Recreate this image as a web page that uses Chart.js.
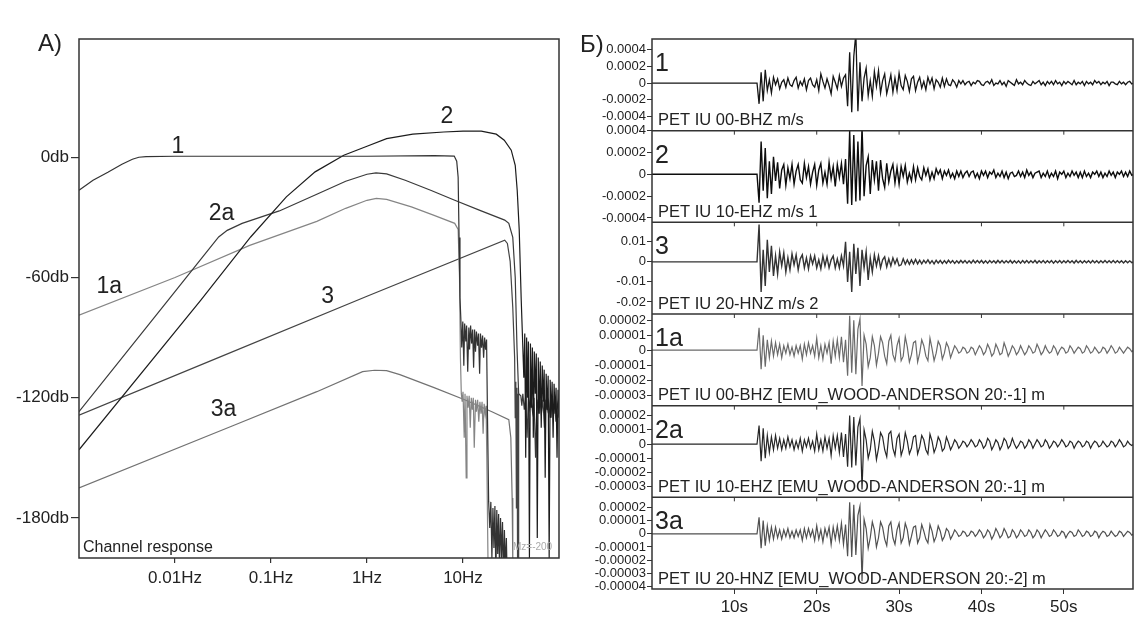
<!DOCTYPE html>
<html>
<head>
<meta charset="utf-8">
<title>Channel response and seismograms</title>
<script src="https://cdn.jsdelivr.net/npm/chart.js@4.4.1/dist/chart.umd.min.js"></script>
<style>
  html, body { margin: 0; padding: 0; background: #fff; }
  #page { position: relative; width: 1136px; height: 618px; overflow: hidden; }
  #responseChart { position: absolute; left: 0; top: 0; }
  #traceChart { position: absolute; left: 570px; top: 0; }
</style>
</head>
<body>
<div id="page">
  <canvas id="responseChart" width="580" height="618"></canvas>
  <canvas id="traceChart" width="566" height="618"></canvas>
</div>
<script>
const FONT = '"Liberation Sans", Arial, sans-serif';
const INK = '#222';

// A) channel response: frequency in Hz, gain in db
const freqTicks = [0.01, 0.1, 1, 10];
const gainTicks = [0, -60, -120, -180];

const resp1Hz = [0.001, 0.0014, 0.002, 0.0028, 0.0036, 0.0042, 0.005, 0.01, 0.1, 1, 5, 8.1, 8.6, 8.9, 9.1, 9.3,
  9.5, 9.7, 9.95, 10.2, 10.4, 10.7, 10.9, 11.2, 11.5, 11.7, 12.0, 12.3, 12.6, 12.9, 13.2, 13.5, 13.8, 14.2, 14.5, 14.9,
  15.2, 15.6, 16.0, 16.4, 16.8, 17.2, 17.6,
  18.0, 18.5, 19.0, 19.5, 20.0, 20.5, 21, 21.5, 22, 22.5, 23, 23.5, 24, 24.6, 25.2, 25.8, 26.4, 27, 27.6, 28.3, 29];
const resp1Db = [-16.5, -11.5, -7.5, -3.5, -1, 0, 0.3, 0.5, 0.5, 0.5, 0.8, 0.6, -2, -10, -40, -70,
  -81, -95, -82, -104, -83, -92, -84, -107, -85, -96, -84, -93, -86, -105, -86, -97, -87, -94, -88, -108,
  -88, -95, -89, -100, -90, -96, -91,
  -130, -172, -185, -172, -200, -175, -195, -174, -210, -176, -198, -178, -205, -180, -200, -182, -210, -186, -205, -190, -215];

const resp1aHz = [0.001, 0.01, 0.06, 0.3, 0.6, 1.0, 1.25, 1.6, 2.9, 5, 8.2, 8.9, 9.2, 9.4, 9.6,
  9.8, 10.0, 10.3, 10.5, 10.8, 11.0, 11.3, 11.6, 11.9, 12.2, 12.5, 12.8, 13.1, 13.5, 13.8, 14.2, 14.6, 15.0, 15.4, 15.8,
  16.2, 16.6, 17.0, 17.4, 17.7, 18.2, 18.6];
const resp1aDb = [-78.8, -60, -44, -32, -25.5, -21.5, -20.5, -21, -24.8, -29, -33, -36, -60, -100, -118,
  -122, -117, -140, -118, -160, -119, -125, -119, -135, -120, -126, -120, -145, -121, -127, -121, -132, -122, -128, -122,
  -138, -123, -128, -124, -150, -200, -230];

const resp2Hz = [0.001, 0.0185, 0.0614, 0.1445, 0.288, 0.573, 1.0, 1.6, 3, 6.3, 10, 15.5, 22.2, 26.9, 31.8, 35, 36.7, 38.5, 40.4, 41.4,
  42, 43, 44, 45, 46, 47, 48, 49.2, 50.4, 51.6, 52.8, 54, 55.3, 56.6, 58, 59.4, 60.8, 62.3, 63.8, 65.3,
  66.9, 68.5, 70.1, 71.8, 73.5, 75.3, 77.1, 79, 80.9, 82.8, 84.8, 86.8, 88.9, 91, 93.2, 95.4, 97.7, 100];
const resp2Db = [-146, -71.4, -39.8, -19.8, -7.3, 1, 5.5, 9.3, 11.5, 12.6, 13, 13, 11.5, 8.5, 3.5, -4, -16.5, -36, -71, -86,
  -86, -110, -88, -150, -90, -120, -92, -200, -93, -125, -95, -140, -97, -118, -98, -190, -100, -128, -102, -135,
  -104, -122, -106, -160, -108, -126, -109, -200, -111, -130, -112, -140, -113, -128, -115, -150, -116, -130];

const resp2aHz = [0.001, 0.0093, 0.02, 0.0285, 0.035, 0.05, 0.122, 0.3, 0.6, 1.0, 1.24, 1.6, 2.5, 4.6, 8.2, 15, 27.2, 30, 33, 35, 36.5, 38,
  40, 41, 42, 43.5, 45, 46.5, 48, 49.5, 51, 53, 55, 57, 59, 61, 63, 65.5, 68, 70.5, 73, 75.5, 78, 81, 84, 87, 90, 93, 96, 100];
const resp2aDb = [-127, -69, -49, -39.8, -36.5, -33, -26.8, -18.5, -12, -8.5, -7.8, -8.3, -11.5, -16.5, -21.5, -26.5, -31.4, -33, -40, -60, -95, -118,
  -119, -124, -118, -126, -119, -140, -120, -125, -119, -127, -120, -150, -121, -126, -120, -128, -121, -135, -121, -126,
  -122, -130, -122, -127, -123, -132, -123, -127];

const resp3Hz = [0.001, 0.03, 1, 27.2, 29, 31, 33, 34.5, 35, 35.5, 36, 36.5, 37, 37.5, 38];
const resp3Db = [-128.7, -99.5, -69.4, -41.4, -43, -52, -75, -100, -130, -112, -175, -115, -200, -118, -210];

const resp3aHz = [0.001, 0.04, 0.3, 0.9, 1.2, 1.6, 2.2, 5, 10.4, 20, 30, 31.5, 32.5, 33, 33.5];
const resp3aDb = [-165, -134, -117, -107, -106.3, -106.5, -108.5, -115, -121, -127, -131, -140, -170, -200, -220];

const curveNames = ['1', '2', '2a', '1a', '3', '3a'];
// where each curve name sits on the plot (Hz, db)
const curveLabelHz = [0.0107, 6.8, 0.0305, 0.00207, 0.389, 0.032];
const curveLabelDb = [5.5, 20.1, -28.4, -64.7, -69.7, -126.2];

// Б) seismograms, one sample every 0.25 s starting at 12.75 s (flat before that)
const sampleStart = 12.75;
const sampleStep = 0.25;
const timeTicks = [10, 20, 30, 40, 50];

const traceNames = ['1', '2', '3', '1a', '2a', '3a'];
const stationNames = [
  'PET IU 00-BHZ m/s',
  'PET IU 10-EHZ m/s 1',
  'PET IU 20-HNZ m/s 2',
  'PET IU 00-BHZ [EMU_WOOD-ANDERSON 20:-1] m',
  'PET IU 10-EHZ [EMU_WOOD-ANDERSON 20:-1] m',
  'PET IU 20-HNZ [EMU_WOOD-ANDERSON 20:-2] m'
];

// x1e-4 m/s
const trace1 = [
  0, -2.5, 1.3, -2.2, 1.6, -0.9, 0.4, -1.2, 0.7, -0.2,
  0.5, -0.7, 0.1, 0.4, -0.5, 0.6, -0.2, -0.4, 0.3, 0.7,
  -0.6, 0.2, -0.3, 0.5, -0.8, 0.3, 0.6, -0.2, -0.5, 0.4,
  -0.9, 1.1, 0.2, -0.6, 0.5, -0.3, -1.3, 0.8, 0.1, -0.7,
  0.9, -0.4, 0.6, 1.0, -2.8, 3.7, -3.5, 3.2, 6, -3.4,
  2.5, -2.2, 0.6, 1.8, -1.5, 0.3, -1.6, 1.4, -0.4, 1.5,
  -1.2, 0.3, 1.1, -1.3, -0.2, 1.0, -1.1, 0.6, -0.9, 1.2,
  -0.3, -0.8, 0.9, 0.2, -1.0, 0.5, 0.8, -0.9, 0.1, 0.7,
  -0.6, 0.2, -0.8, 0.7, -0.1, 0.6, -0.7, 0.4, 0.1, -0.5,
  0.6, -0.4, 0.5, -0.2, -0.3, 0.4, 0.1, -0.5, 0.3, -0.1,
  0.3, -0.2, 0.1, 0.2, -0.3, 0.1, -0.1, 0.3, 0.2, -0.2,
  -0.3, 0.1, 0.2, -0.1, 0.4, -0.3, 0, -0.1, 0.3, -0.2,
  0.1, -0.4, 0.3, 0.1, -0.1, -0.3, 0.4, -0.1, 0.1, -0.2,
  0.3, 0, -0.2, -0.3, 0.2, -0.1, 0.1, 0.3, -0.2, 0.1,
  -0.3, 0.2, -0.1, 0.2, -0.2, 0.3, -0.1, 0.1, -0.3, 0.2,
  -0.1, 0.2, 0, -0.2, 0.3, -0.2, 0.1, -0.1, 0.2, -0.3,
  0.2, -0.1, 0.1, -0.2, 0.3, 0, 0.2, -0.2, 0.1, -0.1,
  0.2, -0.3, 0.1, 0.1, -0.1, -0.2, 0.2, -0.1, 0.1, -0.2,
  0.1, 0.2, -0.1, 0
];
// x1e-4 m/s
const trace2 = [
  0, -2.6, 3.0, -1.5, 2.4, -2.2, 1.2, -1.8, 1.6, -0.6,
  1.1, -1.3, 0.4, 0.9, -1.0, 0.6, -0.4, 0.9, -0.9, 0.3,
  0.9, -0.5, -0.8, 1.0, -0.3, 0.7, -0.9, 0.2, 0.9, -1.0,
  0.4, 1.0, -0.8, 0.2, -0.9, 1.1, -0.4, 0.7, -1.1, 0.9,
  -0.3, 1.0, -0.9, 1.4, -2.7, 4.0, -2.8, 3.6, -2.5, 3.0,
  -2.4, 4.4, -2.0, 0.8, 1.6, -1.8, 1.3, -0.5, 1.2, -1.5,
  1.3, -0.4, -1.2, 1.0, -0.7, 0.3, 0.9, -0.8, 0.6, -0.9,
  0.7, -0.2, 0.8, -0.7, 0.1, -0.6, 0.7, -0.5, 0.6, -0.2,
  -0.5, 0.6, -0.1, 0.5, -0.5, 0.2, -0.4, 0.5, 0, 0.4,
  -0.4, 0.3, -0.1, 0.4, -0.3, 0.1, -0.4, 0.3, -0.2, 0.3,
  -0.3, 0.1, 0.3, -0.2, 0.2, 0.3, -0.3, 0.1, -0.4, 0.3,
  -0.1, 0.3, -0.3, 0.2, 0, 0.4, -0.3, 0.1, -0.2, 0.3,
  -0.3, 0.2, -0.4, 0.1, 0.2, -0.2, -0.1, 0.3, -0.2, 0.2,
  -0.3, 0.4, -0.1, 0.2, -0.3, 0.1, 0.2, 0.3, -0.3, 0.1,
  -0.2, 0.3, -0.3, 0.1, -0.2, 0.3, -0.4, 0.2, 0, 0.3,
  -0.3, 0.1, -0.2, 0.3, -0.1, 0.2, -0.3, 0.2, -0.3, 0.3,
  -0.2, 0.1, -0.3, 0.2, 0, 0.3, -0.2, 0.2, -0.3, 0.1,
  -0.2, 0.3, -0.1, 0.2, -0.3, 0.2, 0, 0.3, -0.2, 0.2,
  -0.2, 0.3, -0.1, 0
];
// x1e-2 m/s
const trace3 = [
  0, 1.86, -1.5, 0.6, -1.2, 1.1, -0.5, 0.8, -0.7, 0.3,
  -0.6, 0.5, -0.2, 0.45, -0.5, 0.2, -0.4, 0.4, -0.15, 0.35,
  -0.4, 0.15, 0.35, -0.3, 0.2, -0.35, 0.3, -0.1, 0.3, -0.3,
  0.1, -0.35, 0.3, -0.2, 0.25, -0.3, 0.1, 0.3, -0.3, 0.15,
  -0.3, 0.3, -0.2, 1.0, -1.0, 0.5, -1.5, 0.9, -0.6, 0.7,
  -1.2, 0.6, -0.3, 0.5, -0.9, 0.2, -0.5, 0.35, -0.2, 0.3,
  -0.3, 0.1, 0.25, -0.25, 0.15, -0.2, 0.2, -0.1, 0.15, -0.2,
  -0.15, 0.15, -0.12, 0.1, -0.12, 0.1, -0.1, 0.12, -0.1, 0.08,
  -0.1, 0.08, -0.06, 0.1, -0.08, 0.06, -0.1, 0.08, -0.06, 0.07,
  -0.08, 0.06, -0.07, 0.08, -0.05, 0.06, -0.08, 0.05, -0.06, 0.07,
  -0.05, 0.06, -0.07, 0.05, -0.06, 0.08, -0.05, 0.06, -0.05, 0.07,
  -0.06, 0.05, -0.07, 0.06, -0.05, 0.05, -0.06, 0.07, -0.05, 0.06,
  -0.06, 0.05, -0.05, 0.07, -0.06, 0.05, -0.06, 0.05, -0.07, 0.06,
  -0.05, 0.06, -0.06, 0.05, -0.05, 0.07, -0.06, 0.05, -0.05, 0.06,
  -0.06, 0.05, -0.05, 0.06, -0.07, 0.05, -0.05, 0.06, -0.06, 0.05,
  -0.05, 0.06, -0.05, 0.05, -0.06, 0.07, -0.05, 0.05, -0.06, 0.05,
  -0.05, 0.05, -0.06, 0.06, -0.05, 0.05, -0.06, 0.05, -0.05, 0.06,
  -0.05, 0.05, -0.05, 0.06, -0.05, 0.05, -0.05, 0.05, -0.06, 0.05,
  -0.05, 0.05, -0.04, 0
];
// x1e-5 m (Wood-Anderson)
const trace1a = [
  0, 1.5, -1.27, 1.0, -1.1, 0.7, -0.5, 0.6, -0.4, 0.5,
  -0.3, 0.4, -0.5, 0.3, -0.2, 0.4, -0.3, 0.2, -0.4, 0.3,
  -0.2, 0.3, -0.6, 0.4, -0.3, 0.5, -0.2, 0.3, -0.4, 0.8,
  -0.5, 0.3, -0.6, 0.4, -0.2, 0.5, -0.9, 0.6, -0.4, 0.7,
  -0.5, 0.9, -0.8, 0.7, -1.7, 2.3, -1.5, 2.0, -1.6, 1.4,
  2.1, -2.4, 1.0, 0.4, -1.1, -0.5, 0.9, 0.3, -1.0, -0.2,
  0.9, 0.5, -0.4, -0.9, 0.6, 1.0, -0.3, -0.7, 0.3, 0.8,
  -0.7, -0.4, 0.9, 0.2, -0.8, -0.3, 0.5, 0.6, -0.8, -0.2,
  0.7, 0.3, -0.4, -0.7, 0.8, 0.1, -0.7, -0.2, 0.6, 0.3,
  -0.6, -0.2, 0.5, 0.2, -0.5, -0.1, 0.3, 0.1, -0.2, -0.1,
  0.2, 0.1, -0.2, -0.1, 0.2, 0.1, -0.3, 0, 0.3, 0.1,
  -0.3, -0.1, 0.4, 0.1, -0.4, -0.2, 0.4, 0.1, -0.3, -0.2,
  0.5, 0.1, -0.4, -0.1, 0.3, 0.1, -0.3, -0.1, 0.3, 0,
  -0.3, -0.1, 0.3, 0.1, -0.2, -0.1, 0.4, 0.1, -0.3, -0.1,
  0.3, 0, -0.2, -0.1, 0.3, 0.1, -0.3, 0, 0.2, 0.1,
  -0.2, -0.1, 0.3, 0.1, -0.2, 0, 0.2, 0.1, -0.2, -0.1,
  0.3, 0.1, -0.2, -0.1, 0.2, 0, -0.2, -0.1, 0.2, 0.1,
  -0.2, 0, 0.3, 0.1, -0.2, -0.1, 0.2, 0, -0.2, 0,
  0.2, 0.1, -0.1, 0
];
// x1e-5 m
const trace2a = [
  0, 1.3, -1.2, 1.1, -1.0, 0.6, -0.6, 0.5, -0.4, 0.6,
  -0.3, 0.4, -0.4, 0.3, -0.3, 0.5, -0.2, 0.3, -0.4, 0.2,
  -0.3, 0.4, -0.5, 0.3, -0.2, 0.4, -0.3, 0.2, -0.5, 0.7,
  -0.4, 0.3, -0.5, 0.5, -0.3, 0.4, -0.8, 0.6, -0.3, 0.6,
  -0.6, 0.8, -0.9, 0.7, -1.6, 2.0, -1.65, 1.9, -1.5, 1.2,
  1.8, -3.2, 1.0, 0.3, -1.0, -0.4, 0.9, 0.2, -1.1, -0.3,
  0.8, 0.5, -0.4, -0.9, 0.7, 0.9, -0.3, -0.8, 0.4, 0.7,
  -0.8, -0.3, 0.8, 0.2, -0.7, -0.3, 0.5, 0.6, -0.7, -0.2,
  0.6, 0.3, -0.4, -0.7, 0.7, 0.2, -0.6, -0.2, 0.5, 0.2,
  -0.5, -0.3, 0.5, 0.1, -0.4, -0.1, 0.3, 0.1, -0.3, -0.1,
  0.2, 0.1, -0.2, 0, 0.3, 0.1, -0.2, -0.1, 0.3, 0.1,
  -0.3, -0.1, 0.4, 0.2, -0.4, -0.1, 0.3, 0.1, -0.4, -0.1,
  0.4, 0.2, -0.3, -0.1, 0.4, 0, -0.3, -0.1, 0.2, 0.1,
  -0.3, -0.1, 0.3, 0.1, -0.3, 0, 0.3, 0.1, -0.2, -0.1,
  0.3, 0.1, -0.3, -0.1, 0.2, 0.1, -0.2, 0, 0.3, 0.1,
  -0.2, -0.1, 0.2, 0.1, -0.3, 0, 0.2, 0.1, -0.2, -0.1,
  0.2, 0.1, -0.3, 0, 0.2, 0.1, -0.2, -0.1, 0.2, 0,
  -0.2, -0.1, 0.2, 0.1, -0.2, 0, 0.3, 0.1, -0.2, -0.1,
  0.2, 0, -0.1, 0
];
// x1e-5 m
const trace3a = [
  0, 1.25, -1.1, 1.0, -0.9, 0.6, -0.5, 0.5, -0.4, 0.5,
  -0.3, 0.3, -0.4, 0.3, -0.2, 0.4, -0.3, 0.2, -0.3, 0.3,
  -0.2, 0.3, -0.5, 0.4, -0.3, 0.4, -0.2, 0.3, -0.5, 0.6,
  -0.4, 0.3, -0.6, 0.4, -0.2, 0.5, -0.8, 0.5, -0.4, 0.6,
  -0.5, 0.8, -0.8, 0.7, -1.7, 2.4, -1.75, 2.2, -1.6, 1.4,
  2.1, -3.6, 1.1, 0.4, -1.1, -0.3, 0.9, 0.3, -1.0, -0.3,
  0.9, 0.5, -0.4, -0.9, 0.6, 0.9, -0.3, -0.8, 0.3, 0.8,
  -0.7, -0.3, 0.8, 0.3, -0.8, -0.2, 0.5, 0.6, -0.7, -0.3,
  0.7, 0.2, -0.4, -0.7, 0.7, 0.2, -0.6, -0.2, 0.6, 0.2,
  -0.5, -0.2, 0.4, 0.2, -0.4, -0.1, 0.3, 0.1, -0.2, -0.1,
  0.2, 0.1, -0.2, -0.1, 0.2, 0.1, -0.2, 0, 0.3, 0.1,
  -0.3, -0.1, 0.3, 0.1, -0.4, -0.1, 0.4, 0.1, -0.3, -0.1,
  0.4, 0.1, -0.3, -0.2, 0.3, 0.1, -0.3, -0.1, 0.3, 0.1,
  -0.2, -0.1, 0.3, 0.1, -0.3, -0.1, 0.3, 0.1, -0.3, 0,
  0.3, 0.1, -0.2, -0.1, 0.3, 0.1, -0.2, -0.1, 0.2, 0.1,
  -0.3, 0, 0.2, 0.1, -0.2, -0.1, 0.3, 0.1, -0.2, -0.1,
  0.2, 0.1, -0.2, -0.1, 0.2, 0.1, -0.3, 0, 0.2, 0.1,
  -0.2, -0.1, 0.2, 0, -0.2, -0.1, 0.2, 0.1, -0.2, 0,
  0.2, 0.1, -0.1, 0
];
const traceUnits = [1e-4, 1e-4, 1e-2, 1e-5, 1e-5, 1e-5];

const panelTicks = [
  [0.0004, 0.0002, 0, -0.0002, -0.0004],
  [0.0004, 0.0002, 0, -0.0002, -0.0004],
  [0.01, 0, -0.01, -0.02],
  [0.00002, 0.00001, 0, -0.00001, -0.00002, -0.00003],
  [0.00002, 0.00001, 0, -0.00001, -0.00002, -0.00003],
  [0.00002, 0.00001, 0, -0.00001, -0.00002, -0.00003, -0.00004]
];
const panelMin = [-0.000573, -0.00044, -0.026, -0.0000371, -0.0000375, -0.0000419];
const panelMax = [0.00053, 0.0004, 0.0197, 0.0000242, 0.000027, 0.0000277];

function zipCurve(hz, db) {
    return hz.map((f, i) => ({ x: f, y: db[i] }));
}

function tracePoints(values, unit) {
    // quiet line from 0 s up to the first sample
    const pts = [{ x: 0, y: 0 }];
    values.forEach((v, i) => pts.push({ x: sampleStart + i * sampleStep, y: v * unit }));
    return pts;
}

const responseDecor = {
    id: 'responseDecor',
    afterDraw(chart) {
        const ctx = chart.ctx;
        const area = chart.chartArea;
        const xs = chart.scales.x;
        const ys = chart.scales.y;
        ctx.save();
        ctx.strokeStyle = '#333';
        ctx.lineWidth = 1.5;
        ctx.strokeRect(area.left, area.top, area.right - area.left, area.bottom - area.top);

        ctx.fillStyle = INK;
        ctx.textAlign = 'center';
        ctx.textBaseline = 'middle';
        ctx.font = '23px ' + FONT;
        curveNames.forEach((name, i) => {
            ctx.fillText(name, xs.getPixelForValue(curveLabelHz[i]), ys.getPixelForValue(curveLabelDb[i]));
        });
        ctx.textAlign = 'left';
        ctx.font = '24px ' + FONT;
        ctx.fillText('A)', 38, 44);

        ctx.textBaseline = 'alphabetic';
        ctx.font = '16px ' + FONT;
        ctx.fillText('Channel response', area.left + 4, area.bottom - 6);
        ctx.font = '10px ' + FONT;
        ctx.fillStyle = '#aaa';
        ctx.fillText('Mz=-200', area.right - 46, area.bottom - 8);
        ctx.restore();
    }
};

const traceDecor = {
    id: 'traceDecor',
    afterDraw(chart) {
        const ctx = chart.ctx;
        const area = chart.chartArea;
        const xs = chart.scales.x;
        ctx.save();
        ctx.strokeStyle = '#333';
        ctx.lineWidth = 1.5;
        ctx.strokeRect(area.left, area.top, area.right - area.left, area.bottom - area.top);

        traceNames.forEach((name, k) => {
            const s = chart.scales['p' + k];
            if (k > 0) {
                ctx.lineWidth = 1.5;
                ctx.beginPath();
                ctx.moveTo(area.left, s.top);
                ctx.lineTo(area.right, s.top);
                ctx.stroke();
                ctx.lineWidth = 1;
                ctx.beginPath();
                timeTicks.forEach(t => {
                    const px = xs.getPixelForValue(t);
                    ctx.moveTo(px, s.top);
                    ctx.lineTo(px, s.top + 4);
                });
                ctx.stroke();
            }
            ctx.fillStyle = INK;
            ctx.textAlign = 'left';
            ctx.textBaseline = 'middle';
            ctx.font = '25px ' + FONT;
            ctx.fillText(name, area.left + 3, s.top + 25);
            ctx.font = '16.5px ' + FONT;
            ctx.fillText(stationNames[k], area.left + 6, s.bottom - 10);
        });
        ctx.font = '24px ' + FONT;
        ctx.fillText('Б)', 10, 45);
        ctx.restore();
    }
};

function renderResponseChart() {
    const curves = [
        { hz: resp1Hz, db: resp1Db, color: '#333333' },
        { hz: resp2Hz, db: resp2Db, color: '#1c1c1c' },
        { hz: resp2aHz, db: resp2aDb, color: '#3a3a3a' },
        { hz: resp1aHz, db: resp1aDb, color: '#858585' },
        { hz: resp3Hz, db: resp3Db, color: '#444444' },
        { hz: resp3aHz, db: resp3aDb, color: '#727272' }
    ];
    new Chart(document.getElementById('responseChart'), {
        type: 'line',
        data: {
            datasets: curves.map((c, i) => ({
                label: curveNames[i],
                data: zipCurve(c.hz, c.db),
                borderColor: c.color,
                borderWidth: 1.2,
                pointRadius: 0,
                fill: false,
                tension: 0
            }))
        },
        options: {
            responsive: false,
            animation: false,
            events: [],
            layout: { padding: { top: 39, right: 21, bottom: 0, left: 0 } },
            plugins: { legend: { display: false }, tooltip: { enabled: false } },
            scales: {
                x: {
                    type: 'logarithmic',
                    min: 0.001,
                    max: 100,
                    afterBuildTicks: axis => { axis.ticks = freqTicks.map(v => ({ value: v })); },
                    afterFit: axis => { axis.height = 60; },
                    ticks: {
                        autoSkip: false, maxRotation: 0, padding: 5, color: INK,
                        font: { family: FONT, size: 17 },
                        callback: v => v + 'Hz'
                    },
                    grid: { drawOnChartArea: false, tickLength: 5, color: '#333', lineWidth: 1.2 },
                    border: { display: false }
                },
                y: {
                    min: -200,
                    max: 59,
                    afterBuildTicks: axis => { axis.ticks = gainTicks.map(v => ({ value: v })); },
                    afterFit: axis => { axis.width = 79; },
                    ticks: {
                        autoSkip: false, padding: 2, color: INK,
                        font: { family: FONT, size: 17 },
                        callback: v => v + 'db'
                    },
                    grid: { drawOnChartArea: false, tickLength: 8, color: '#333', lineWidth: 1.2 },
                    border: { display: false }
                }
            }
        },
        plugins: [responseDecor]
    });
}

function panelAxis(k) {
    return {
        type: 'linear',
        position: 'left',
        stack: 'traces',
        stackWeight: 1,
        weight: 6 - k,
        min: panelMin[k],
        max: panelMax[k],
        afterBuildTicks: axis => { axis.ticks = panelTicks[k].map(v => ({ value: v })); },
        afterFit: axis => { axis.width = 82; },
        ticks: {
            autoSkip: false, padding: 1, color: INK,
            font: { family: FONT, size: 13 },
            callback: v => String(v)
        },
        grid: { drawOnChartArea: false, tickLength: 5, color: '#333' },
        border: { display: false }
    };
}

function renderTraceChart() {
    const traces = [trace1, trace2, trace3, trace1a, trace2a, trace3a];
    const colors = ['#151515', '#0d0d0d', '#333333', '#6a6a6a', '#262626', '#505050'];
    const widths = [1.3, 1.4, 1.4, 1.2, 1.2, 1.2];
    const scales = {
        x: {
            type: 'linear',
            min: 0,
            max: 58.4,
            afterBuildTicks: axis => { axis.ticks = timeTicks.map(v => ({ value: v })); },
            afterFit: axis => { axis.height = 29; },
            ticks: {
                autoSkip: false, maxRotation: 0, padding: 3, color: INK,
                font: { family: FONT, size: 17 },
                callback: v => v + 's'
            },
            grid: { drawOnChartArea: false, tickLength: 5, color: '#333' },
            border: { display: false }
        }
    };
    traceNames.forEach((name, k) => { scales['p' + k] = panelAxis(k); });

    new Chart(document.getElementById('traceChart'), {
        type: 'line',
        data: {
            datasets: traces.map((values, k) => ({
                label: traceNames[k],
                data: tracePoints(values, traceUnits[k]),
                yAxisID: 'p' + k,
                borderColor: colors[k],
                borderWidth: widths[k],
                pointRadius: 0,
                fill: false,
                tension: 0
            }))
        },
        options: {
            responsive: false,
            animation: false,
            events: [],
            layout: { padding: { top: 39, right: 3, bottom: 0, left: 0 } },
            plugins: { legend: { display: false }, tooltip: { enabled: false } },
            scales: scales
        },
        plugins: [traceDecor]
    });
}

document.addEventListener('DOMContentLoaded', function() {
    renderResponseChart();
    renderTraceChart();
});
</script>
</body>
</html>
